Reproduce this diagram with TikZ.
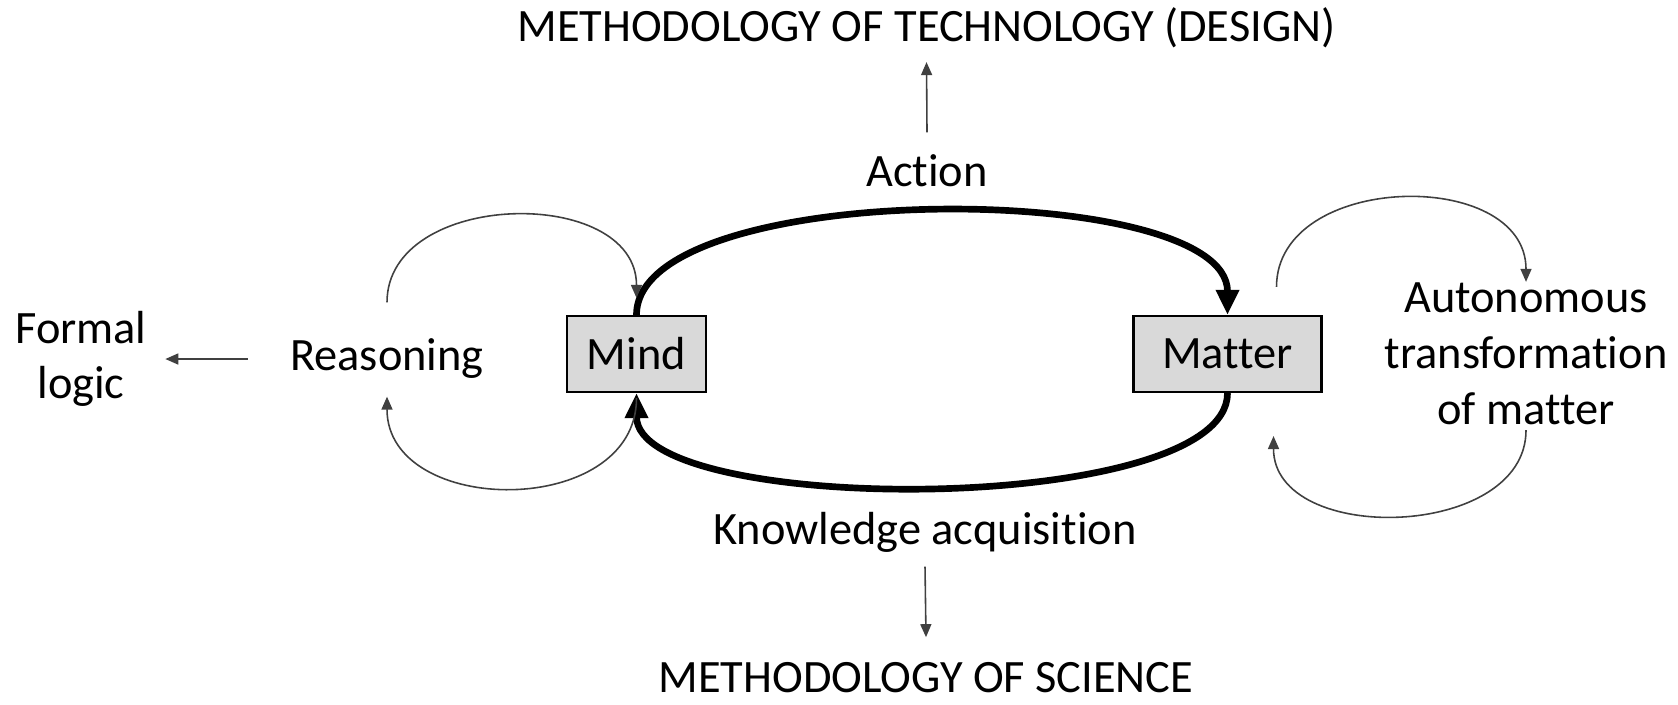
\documentclass[tikz,border=0pt]{standalone}
\usepackage{fontspec}
\setmainfont{Carlito}[Ligatures={NoCommon, NoContextual}]
\usetikzlibrary{arrows.meta}
\tikzset{
	box/.style={draw=black, line width=0.6pt, fill=black!15, minimum height=0.76cm, inner sep=0pt},
	lbl/.style={inner sep=0.5mm, align=center},
	mainarc/.style={line width=1.9pt, -{Triangle[length=0.25cm, width=0.22cm]}},
	sidearc/.style={line width=0.45pt, draw=black!75, -{Triangle[length=0.13cm, width=0.11cm]}},
}

\begin{document}
\begin{tikzpicture}[every node/.style={font=\fontsize{13.2}{15.8}\selectfont}]
			%%%%% START %%%%%
			\useasboundingbox (0, 0) rectangle (16.78, 7.05);
			
			\node[lbl, anchor=base] (title) at (9.265, 6.63) {METHODOLOGY OF TECHNOLOGY (DESIGN)};
			\node[lbl, anchor=base] (action) at (9.27, 5.18) {Action};
			
			\node[box, minimum width=1.39cm] (mind) at (6.365, 3.51) {Mind};
			\node[box, minimum width=1.88cm] (matter) at (12.275, 3.51) {Matter};
			
			\node[lbl, anchor=base] (reasoning) at (3.87, 3.34) {Reasoning};
			\node[lbl, inner sep=0pt] (formal) at (0.81, 3.46) {Formal\\logic};
			\node[lbl, inner sep=0pt, font=\fontsize{13.2}{15.9}\selectfont] (autonomous) at (15.26, 3.515) {Autonomous\\transformation\\of matter};
			
			\node[lbl, anchor=base] (knowledge) at (9.25, 1.60) {Knowledge acquisition};
			\node[lbl, anchor=base] (science) at (9.26, 0.12) {METHODOLOGY OF SCIENCE};
			
			% action and knowledge acquisition
			\draw[mainarc] (mind.north) .. controls +(0, 1.37) and +(0, 1.37) .. (matter.north);
			\draw[mainarc] (matter.south) .. controls +(0, -1.24) and +(0, -1.24) .. (mind.south);
			
			% reasoning loops
			\draw[sidearc] ([yshift=3.1mm]reasoning.north) .. controls +(0, 1.13) and +(0, 1.13) .. ([yshift=1.7mm]mind.north);
			\draw[sidearc] ([yshift=-0.5mm]mind.south) .. controls +(0, -1.21) and +(0, -1.21) .. ([yshift=-1.2mm]reasoning.south);
			
			% autonomous loops
			\draw[sidearc] ([xshift=4.9mm, yshift=2.8mm]matter.north) .. controls +(0, 1.15) and +(0, 1.15) .. (autonomous.north);
			\draw[sidearc] ([yshift=-0.5mm]autonomous.south) .. controls +(0, -1.1) and +(0, -1.1) .. ([xshift=4.6mm, yshift=-4.3mm]matter.south);
			
			% methodologies
			\draw[sidearc] ([yshift=1.7mm]action.north) -- ([yshift=-0.8mm]title.south);
			\draw[sidearc] ([yshift=-0.8mm]knowledge.south) -- ([yshift=2mm]science.north);
			\draw[sidearc, shorten <=3.7mm, shorten >=1.8mm] (reasoning.west) -- (reasoning.west -| formal.east);
			%%%%% END %%%%%
\end{tikzpicture}
\end{document}
